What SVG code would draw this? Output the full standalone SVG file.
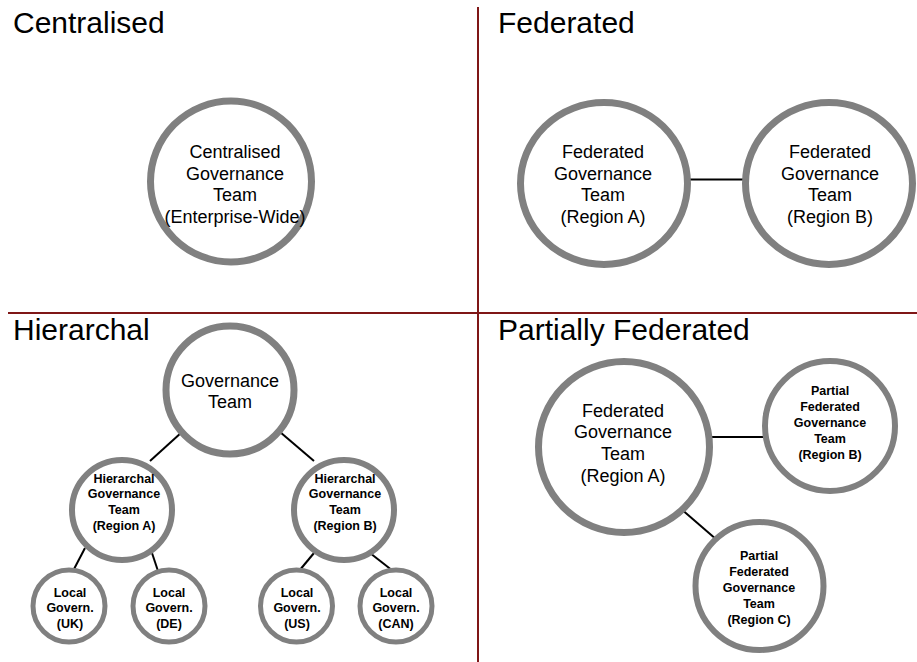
<svg xmlns="http://www.w3.org/2000/svg" width="917" height="662" viewBox="0 0 917 662">
  <style>
    .title { font-family: "Liberation Sans", Arial, sans-serif; font-size: 30px; fill: #000; }
    .lbl { font-family: "Liberation Sans", Arial, sans-serif; font-size: 18px; fill: #000; text-anchor: middle; }
    .sm { font-family: "Liberation Sans", Arial, sans-serif; font-size: 12.5px; font-weight: bold; fill: #000; text-anchor: middle; }
    .ring { fill: #fff; stroke: #808080; }
    .r7 { stroke-width: 7; }
    .r6 { stroke-width: 6; }
    .r5 { stroke-width: 5; }
    .link { stroke: #000; stroke-width: 2; fill: none; }
    .divider { stroke: #7f1717; stroke-width: 2; }
  </style>
  <rect width="917" height="662" fill="#fff"/>

  <!-- quadrant dividers -->
  <g id="dividers">
    <line class="divider" x1="478" y1="7" x2="478" y2="662"/>
    <line class="divider" x1="8" y1="313" x2="917" y2="313"/>
  </g>

  <!-- quadrant titles -->
  <g id="titles">
    <text class="title" x="13" y="33">Centralised</text>
    <text class="title" x="498" y="33">Federated</text>
    <text class="title" x="13" y="340">Hierarchal</text>
    <text class="title" x="498" y="340">Partially Federated</text>
  </g>

  <!-- connectors -->
  <g id="connectors">
    <line class="link" x1="690" y1="179.5" x2="745" y2="179.5"/>
    <line class="link" x1="182" y1="432" x2="150" y2="461"/>
    <line class="link" x1="280" y1="432" x2="314" y2="461"/>
    <line class="link" x1="85" y1="548" x2="73" y2="571"/>
    <line class="link" x1="151" y1="550" x2="158" y2="571"/>
    <line class="link" x1="314" y1="553" x2="299" y2="571"/>
    <line class="link" x1="370" y1="553" x2="393" y2="571"/>
    <line class="link" x1="710" y1="437" x2="765" y2="437"/>
    <line class="link" x1="680" y1="508" x2="717" y2="540"/>
  </g>

  <!-- Centralised -->
  <g id="central">
    <circle class="ring r7" cx="231" cy="181.5" r="80.5"/>
    <text class="lbl" x="235" y="158">Centralised</text>
    <text class="lbl" x="235" y="179.5">Governance</text>
    <text class="lbl" x="235" y="201">Team</text>
    <text class="lbl" x="235" y="222.5">(Enterprise-Wide)</text>
  </g>

  <!-- Federated -->
  <g id="fed-a">
    <ellipse class="ring r7" cx="604" cy="183.5" rx="83.5" ry="81"/>
    <text class="lbl" x="603" y="158">Federated</text>
    <text class="lbl" x="603" y="179.5">Governance</text>
    <text class="lbl" x="603" y="201">Team</text>
    <text class="lbl" x="603" y="223">(Region A)</text>
  </g>
  <g id="fed-b">
    <ellipse class="ring r7" cx="829" cy="183.5" rx="83.5" ry="81"/>
    <text class="lbl" x="830" y="158">Federated</text>
    <text class="lbl" x="830" y="179.5">Governance</text>
    <text class="lbl" x="830" y="201">Team</text>
    <text class="lbl" x="830" y="223">(Region B)</text>
  </g>

  <!-- Hierarchal -->
  <g id="hier-top">
    <circle class="ring r7" cx="230" cy="390" r="64"/>
    <text class="lbl" x="230" y="386.5">Governance</text>
    <text class="lbl" x="230" y="407.5">Team</text>
  </g>
  <g id="hier-a">
    <circle class="ring r6" cx="122" cy="510" r="50"/>
    <text class="sm" x="124" y="482.5">Hierarchal</text>
    <text class="sm" x="124" y="497.5">Governance</text>
    <text class="sm" x="124" y="513.5">Team</text>
    <text class="sm" x="124" y="529.5">(Region A)</text>
  </g>
  <g id="hier-b">
    <circle class="ring r6" cx="344" cy="510" r="50"/>
    <text class="sm" x="345" y="482.5">Hierarchal</text>
    <text class="sm" x="345" y="497.5">Governance</text>
    <text class="sm" x="345" y="513.5">Team</text>
    <text class="sm" x="345" y="529.5">(Region B)</text>
  </g>
  <g id="local-uk">
    <circle class="ring r5" cx="69" cy="606" r="36"/>
    <text class="sm" x="70" y="596.5">Local</text>
    <text class="sm" x="70" y="611.5">Govern.</text>
    <text class="sm" x="70" y="627.5">(UK)</text>
  </g>
  <g id="local-de">
    <circle class="ring r5" cx="169" cy="606" r="36"/>
    <text class="sm" x="169" y="596.5">Local</text>
    <text class="sm" x="169" y="611.5">Govern.</text>
    <text class="sm" x="169" y="627.5">(DE)</text>
  </g>
  <g id="local-us">
    <circle class="ring r5" cx="296.5" cy="606" r="36"/>
    <text class="sm" x="297" y="596.5">Local</text>
    <text class="sm" x="297" y="611.5">Govern.</text>
    <text class="sm" x="297" y="627.5">(US)</text>
  </g>
  <g id="local-can">
    <circle class="ring r5" cx="396" cy="606" r="36"/>
    <text class="sm" x="396" y="596.5">Local</text>
    <text class="sm" x="396" y="611.5">Govern.</text>
    <text class="sm" x="396" y="627.5">(CAN)</text>
  </g>

  <!-- Partially Federated -->
  <g id="pfed-a">
    <circle class="ring r7" cx="624" cy="447" r="85.5"/>
    <text class="lbl" x="623" y="416.5">Federated</text>
    <text class="lbl" x="623" y="437.5">Governance</text>
    <text class="lbl" x="623" y="459.5">Team</text>
    <text class="lbl" x="623" y="481.5">(Region A)</text>
  </g>
  <g id="pfed-b">
    <circle class="ring r6" cx="830" cy="426" r="65"/>
    <text class="sm" x="830" y="394.5">Partial</text>
    <text class="sm" x="830" y="410.5">Federated</text>
    <text class="sm" x="830" y="426.5">Governance</text>
    <text class="sm" x="830" y="442.5">Team</text>
    <text class="sm" x="830" y="458.5">(Region B)</text>
  </g>
  <g id="pfed-c">
    <circle class="ring r6" cx="759.5" cy="586" r="64"/>
    <text class="sm" x="759" y="559.5">Partial</text>
    <text class="sm" x="759" y="575.5">Federated</text>
    <text class="sm" x="759" y="591.5">Governance</text>
    <text class="sm" x="759" y="607.5">Team</text>
    <text class="sm" x="759" y="623.5">(Region C)</text>
  </g>
</svg>
